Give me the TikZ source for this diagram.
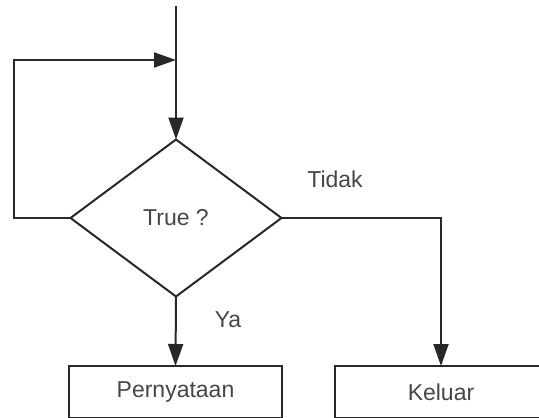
\documentclass[tikz,border=0pt]{standalone}
\usepackage{fontspec}
\setmainfont{Liberation Sans}
\usetikzlibrary{shapes.geometric,arrows.meta}
\definecolor{linegray}{RGB}{40,40,40}
\definecolor{textgray}{RGB}{70,70,70}

\begin{document}
\begin{tikzpicture}[x=1pt, y=-1pt,
  decision/.style={diamond, draw=linegray, line width=2pt, outer sep=0pt,
                   minimum width=211pt, minimum height=157pt, inner sep=0pt,
                   text=textgray, font=\fontsize{23}{26}\selectfont},
  stmt/.style={rectangle, draw=linegray, line width=2pt, outer sep=0pt,
               minimum width=213pt, minimum height=52pt,
               text=textgray, font=\fontsize{23}{26}\selectfont},
  lbl/.style={text=textgray, font=\fontsize{23}{26}\selectfont},
  arrow/.style={-{Triangle[length=22pt,width=15pt]}, line width=2pt, linegray}
]
  \clip (0,0) rectangle (539,418);
  \node[decision] (cond) at (176,218) {True ?};
  \node[stmt] (pern) at (175.5,392) {Pernyataan};
  \node[stmt] (kel) at (441,392) {Keluar};
  \coordinate (start) at (176,6);
  \coordinate (loop) at (14,60);
  \coordinate (merge) at (176,60);
  \node[lbl] (tidak) at (335,179) {Tidak};
  \node[lbl] (ya) at (228,320) {Ya};
  \draw[arrow] (start) -- (cond.north);
  \draw[arrow] (cond.west) -| (loop) -- (merge);
  \draw[arrow] (cond.south) -- (pern.north);
  \draw[arrow] (cond.east) -| (kel.north);
\end{tikzpicture}
\end{document}
